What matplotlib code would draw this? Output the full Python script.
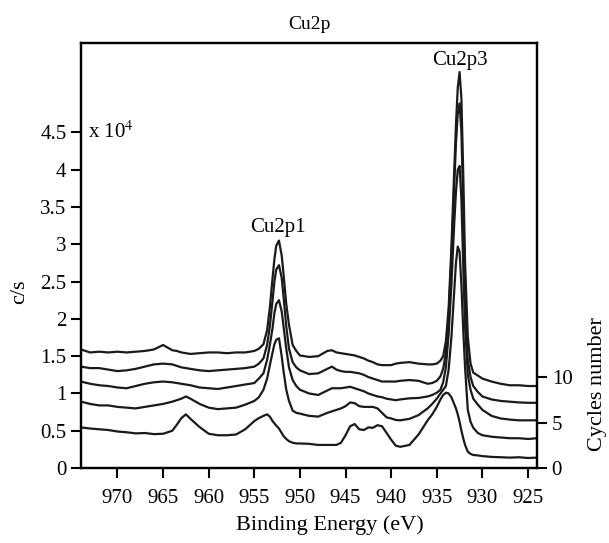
import matplotlib
matplotlib.use("Agg")
import matplotlib.pyplot as plt

plt.rcParams['font.family'] = ['Liberation Serif', 'DejaVu Serif']
plt.rcParams['mathtext.fontset'] = 'stix'

# binding energy grid (eV), shared by all spectra
energy = [974, 973, 972, 971, 970, 969, 968, 967, 966, 965, 964,
          963.5, 963, 962.5, 962,
          961, 960, 959, 958, 957, 956, 955,
          954.5, 954, 953.6, 953.3, 953.0, 952.8, 952.6, 952.3, 952.0, 951.8, 951.5, 951.2, 950.8, 950.4,
          950, 949, 948, 947,
          946.5, 946, 945.5, 945, 944.5, 944, 943.5, 943, 942.5, 942, 941.5, 941, 940.5, 940, 939.5, 939,
          938, 937, 936, 935.5, 935,
          934.6, 934.3, 934.0, 933.7, 933.4, 933.1, 932.9, 932.7, 932.5, 932.3, 932.1, 931.9, 931.6, 931.3, 931.0,
          930.5, 930, 929, 928, 927, 926, 925, 924]

# c/s in units of 1e4, bottom spectrum first
spec_1 = [0.545, 0.53, 0.52, 0.51, 0.49, 0.48, 0.465, 0.47, 0.455, 0.46, 0.50,
          0.58, 0.67, 0.72, 0.66,
          0.55, 0.46, 0.44, 0.44, 0.45, 0.52, 0.63,
          0.67, 0.70, 0.72, 0.69, 0.63, 0.60, 0.57, 0.53, 0.47, 0.43, 0.39, 0.36, 0.34, 0.33,
          0.33, 0.325, 0.31, 0.31,
          0.31, 0.31, 0.34, 0.44, 0.56, 0.59, 0.52, 0.51, 0.545, 0.54, 0.575, 0.56, 0.47, 0.38, 0.30, 0.285,
          0.31, 0.45, 0.64, 0.72, 0.82,
          0.92, 0.98, 1.01, 1.00, 0.95, 0.86, 0.80, 0.72, 0.62, 0.50, 0.40, 0.31, 0.22, 0.19, 0.175,
          0.17, 0.16, 0.15, 0.145, 0.14, 0.145, 0.135, 0.14]

spec_2 = [0.89, 0.86, 0.84, 0.84, 0.82, 0.81, 0.80, 0.82, 0.84, 0.86, 0.89,
          0.91, 0.93, 0.96, 0.93,
          0.86, 0.81, 0.79, 0.80, 0.81, 0.85, 0.90,
          0.95, 1.05, 1.20, 1.38, 1.55, 1.66, 1.72, 1.74, 1.50, 1.30, 1.05, 0.90, 0.77, 0.74,
          0.73, 0.70, 0.69, 0.74,
          0.76, 0.78, 0.80, 0.83, 0.88, 0.87, 0.83, 0.82, 0.82, 0.82, 0.80, 0.74, 0.68, 0.665, 0.645, 0.64,
          0.66, 0.71, 0.80, 0.86, 0.93,
          1.00, 1.05, 1.10, 1.32, 1.75, 2.35, 2.75, 2.97, 2.90, 2.45, 1.85, 1.35, 0.78, 0.62, 0.54,
          0.47, 0.44, 0.42, 0.41, 0.40, 0.40, 0.39, 0.40]

spec_3 = [1.16, 1.13, 1.11, 1.10, 1.08, 1.07, 1.10, 1.13, 1.15, 1.16, 1.15,
          1.14, 1.13, 1.12, 1.11,
          1.08, 1.07, 1.06, 1.08, 1.10, 1.12, 1.14,
          1.20, 1.27, 1.45, 1.65, 1.88, 2.08, 2.20, 2.25, 2.10, 1.90, 1.60, 1.35, 1.18, 1.10,
          1.05, 1.00, 0.98, 1.04,
          1.07, 1.07, 1.07, 1.08, 1.09, 1.07, 1.05, 1.03, 1.00, 0.98, 0.96, 0.95, 0.93, 0.92, 0.91, 0.92,
          0.935, 0.94, 0.96, 0.98, 1.01,
          1.05, 1.15, 1.35, 1.80, 2.45, 3.25, 3.70, 4.00, 4.05, 3.60, 2.70, 1.90, 1.25, 1.05, 0.93,
          0.85, 0.78, 0.70, 0.665, 0.65, 0.64, 0.64, 0.64]

spec_4 = [1.36, 1.34, 1.34, 1.32, 1.30, 1.31, 1.33, 1.36, 1.39, 1.40, 1.39,
          1.37, 1.35, 1.34, 1.33,
          1.31, 1.30, 1.31, 1.32, 1.33, 1.34, 1.36,
          1.40, 1.47, 1.65, 1.90, 2.25, 2.50, 2.66, 2.72, 2.55, 2.30, 1.90, 1.60, 1.42, 1.35,
          1.31, 1.26, 1.27, 1.33,
          1.36, 1.32, 1.30, 1.29, 1.29, 1.28, 1.27, 1.25, 1.22, 1.20, 1.18, 1.16, 1.16, 1.16, 1.16, 1.17,
          1.18, 1.17, 1.13, 1.14, 1.17,
          1.23, 1.33, 1.55, 2.05, 2.80, 3.75, 4.35, 4.75, 4.89, 4.50, 3.50, 2.40, 1.45, 1.22, 1.10,
          1.02, 0.96, 0.92, 0.90, 0.89, 0.88, 0.875, 0.875]

spec_5 = [1.59, 1.55, 1.56, 1.55, 1.56, 1.55, 1.56, 1.57, 1.59, 1.65, 1.58,
          1.57, 1.55, 1.54, 1.53,
          1.54, 1.55, 1.55, 1.54, 1.55, 1.55, 1.57,
          1.60, 1.66, 1.85, 2.15, 2.55, 2.80, 2.98, 3.05, 2.85, 2.60, 2.20, 1.92, 1.65, 1.57,
          1.51, 1.49, 1.50, 1.57,
          1.58, 1.55, 1.54, 1.53, 1.52, 1.51, 1.49, 1.47, 1.44, 1.42, 1.39, 1.38, 1.38, 1.38, 1.40, 1.41,
          1.42, 1.40, 1.39, 1.39, 1.40,
          1.44, 1.50, 1.70, 2.15, 2.95, 3.95, 4.60, 5.10, 5.31, 4.95, 3.95, 2.75, 1.76, 1.40, 1.28,
          1.24, 1.20, 1.16, 1.13, 1.11, 1.11, 1.10, 1.10]

spectra = [spec_1, spec_2, spec_3, spec_4, spec_5]

x_ticks = [970, 965, 960, 955, 950, 945, 940, 935, 930, 925]
y_ticks = [0, 0.5, 1, 1.5, 2, 2.5, 3, 3.5, 4, 4.5]
y_tick_labels = ['0', '0.5', '1', '1.5', '2', '2.5', '3', '3.5', '4', '4.5']
cycle_ticks = [0, 5, 10]

fig = plt.figure(figsize=(6.09, 5.43), dpi=100)
ax = fig.add_axes([0.133, 0.138, 0.749, 0.783])

for s in spectra:
    ax.plot(energy, s, color='#1a1a1a', lw=1.6)

ax.set_xlim(974, 924)
ax.set_ylim(0, 5.7)
ax.set_xticks(x_ticks)
ax.set_yticks(y_ticks)
ax.set_yticklabels(y_tick_labels)
ax.tick_params(axis='both', labelsize=15, length=7, width=1.5, direction='out')
ax.tick_params(axis='x', pad=8)
for sp in ax.spines.values():
    sp.set_linewidth(1.6)

ax.set_title('Cu2p', fontsize=14, pad=10)
ax.set_xlabel('Binding Energy (eV)', fontsize=16, va='center')
ax.xaxis.set_label_coords(0.546, -0.134)
ax.set_ylabel('c/s', fontsize=16, va='center')
ax.yaxis.set_label_coords(-0.134, 0.414)

ax.text(973.2, 4.5, r'x 10$^{4}$', fontsize=15, ha='left', va='center')
ax.text(952.4, 3.23, 'Cu2p1', fontsize=15, ha='center', va='center')
ax.text(932.5, 5.47, 'Cu2p3', fontsize=15, ha='center', va='center')

ax2 = ax.twinx()
ax2.set_ylim(0, 46.7)
ax2.set_yticks(cycle_ticks)
ax2.tick_params(axis='y', labelsize=15, length=7, width=1.5, direction='out')
ax2.set_ylabel('Cycles number', fontsize=16, va='center', ha='center')
ax2.yaxis.set_label_coords(1.132, 0.198)
for sp in ax2.spines.values():
    sp.set_linewidth(1.6)

fig.savefig('out.png', dpi=100)
